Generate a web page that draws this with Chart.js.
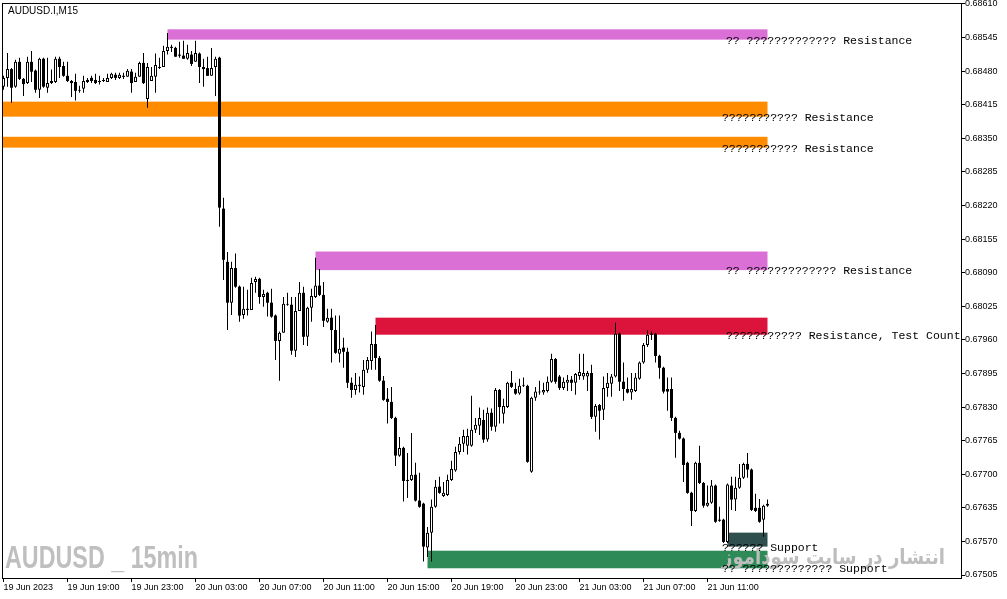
<!DOCTYPE html>
<html>
<head>
<meta charset="utf-8">
<script src="https://cdn.jsdelivr.net/npm/chart.js@4.4.1/dist/chart.umd.min.js"></script>
<style>
  html, body { margin: 0; padding: 0; background: #fff; }
  #wrap { width: 1007px; height: 599px; }
</style>
</head>
<body>
<div id="wrap"><canvas id="chart"></canvas></div>
<script>
// AUDUSD.I M15 candles, prices in points (1e-5), first bar = 19 Jun 15:00
const openPts = [
  68450,68467,68484,68450,68498,68465,68457,68498,68481,68444,68504,68448,
  68457,68459,68504,68490,68471,68461,68459,68442,68446,68463,68467,68463,
  68461,68461,68459,68467,68473,68467,68471,68469,68479,68459,68469,68496,
  68426,68461,68469,68486,68488,68519,68527,68525,68512,68510,68504,68512,
  68498,68514,68488,68486,68471,68488,68506,68214,68111,68032,68099,68063,
  68008,68020,68018,68072,68078,68043,68051,68032,68007,67958,67974,68028,
  68028,67939,68016,68051,67966,68022,68043,68065,68047,67995,68003,67979,
  67933,67945,67937,67877,67863,67873,67869,67902,67919,67952,67925,67881,
  67846,67840,67809,67736,67751,67689,67689,67699,67649,67643,67558,67587,
  67637,67676,67658,67660,67689,67707,67743,67759,67755,67755,67786,67794,
  67805,67767,67819,67792,67863,67817,67830,67877,67865,67856,67871,67871,
  67705,67848,67858,67858,67861,67879,67923,67889,67867,67877,67883,67877,
  67890,67889,67889,67896,67811,67834,67825,67867,67875,67889,67972,67879,
  67865,67858,67861,67885,67916,67950,67972,67972,67929,67906,67865,67865,
  67809,67780,67769,67722,67664,67629,67722,67683,67639,67645,67678,67612,
  67612,67569,67678,67651,67674,67693,67720,67709,67635,67635,67612,67639
];
const highPts = [
  68471,68515,68486,68502,68506,68467,68508,68519,68483,68506,68506,68506,
  68483,68508,68508,68498,68498,68463,68475,68452,68471,68467,68471,68475,
  68471,68467,68475,68477,68477,68477,68477,68484,68484,68477,68498,68515,
  68496,68488,68514,68506,68529,68554,68531,68527,68537,68539,68531,68519,
  68539,68516,68504,68508,68525,68508,68508,68235,68130,68111,68127,68065,
  68063,68057,68080,68082,68080,68057,68053,68059,68009,67976,68043,68051,
  68043,68043,68072,68063,68024,68059,68119,68097,68072,68020,68020,68007,
  68007,67964,67945,67887,67896,67889,67921,67927,67976,67989,67929,67890,
  67867,67869,67811,67772,67753,67741,67780,67722,67703,67645,67598,67651,
  67689,67695,67685,67699,67726,67753,67772,67786,67788,67852,67809,67829,
  67825,67829,67827,67867,67865,67846,67879,67900,67877,67885,67887,67873,
  67850,67869,67881,67877,67889,67933,67925,67892,67887,67892,67890,67896,
  67933,67933,67900,67912,67836,67836,67889,67896,67894,67993,67974,67916,
  67887,67896,67896,67918,67954,67979,67976,67974,67931,67908,67887,67887,
  67811,67784,67771,67724,67666,67724,67755,67685,67678,67689,67680,67637,
  67614,67682,67695,67695,67720,67722,67741,67711,67662,67652,67641,67651
];
const lowPts = [
  68444,68450,68419,68448,68463,68432,68455,68459,68438,68428,68448,68438,
  68455,68457,68467,68469,68459,68430,68423,68438,68438,68457,68457,68455,
  68454,68459,68459,68465,68463,68465,68465,68469,68438,68459,68469,68455,
  68409,68461,68438,68484,68488,68512,68517,68508,68506,68504,68502,68490,
  68498,68457,68450,68471,68471,68432,68179,68076,67979,68008,68061,67995,
  68001,68007,68018,68051,68030,68024,68005,68003,67921,67881,67974,68026,
  67931,67927,68016,67950,67948,67995,68041,68045,67985,67993,67916,67933,
  67916,67906,67867,67848,67854,67858,67854,67896,67902,67902,67879,67842,
  67798,67807,67716,67734,67647,67654,67687,67647,67635,67531,67540,67531,
  67635,67662,67656,67658,67687,67705,67738,67743,67738,67753,67780,67776,
  67761,67763,67784,67782,67798,67798,67828,67867,67854,67854,67869,67722,
  67703,67842,67854,67854,67858,67877,67875,67863,67863,67861,67861,67854,
  67883,67883,67861,67807,67782,67767,67805,67850,67850,67887,67861,67842,
  67856,67844,67859,67883,67914,67946,67960,67916,67885,67856,67823,67803,
  67732,67767,67685,67662,67600,67627,67681,67635,67637,67643,67606,67608,
  67567,67567,67631,67629,67672,67691,67693,67629,67627,67606,67579,67637
];
const closePts = [
  68467,68484,68448,68498,68465,68455,68498,68479,68444,68504,68450,68457,
  68461,68504,68488,68471,68461,68457,68442,68444,68461,68459,68461,68457,
  68459,68462,68467,68475,68467,68473,68469,68481,68457,68469,68496,68457,
  68488,68471,68492,68488,68519,68527,68525,68508,68510,68504,68515,68494,
  68515,68488,68484,68471,68486,68504,68216,68115,68032,68099,68063,68007,
  68020,68018,68070,68078,68043,68049,68032,68005,67958,67974,68030,68030,
  67939,68016,68051,67966,68022,68045,68065,68047,67997,68003,67979,67935,
  67943,67937,67877,67863,67873,67871,67902,67921,67952,67925,67881,67844,
  67840,67809,67736,67751,67687,67687,67699,67649,67637,67560,67587,67637,
  67676,67664,67664,67689,67710,67743,67759,67774,67774,67786,67796,67809,
  67767,67819,67792,67863,67830,67832,67877,67869,67856,67871,67873,67724,
  67848,67860,67860,67863,67879,67923,67879,67867,67879,67883,67877,67894,
  67898,67896,67896,67811,67832,67823,67867,67877,67889,67972,67879,67865,
  67858,67865,67887,67916,67950,67970,67970,67929,67906,67860,67860,67809,
  67780,67769,67718,67664,67629,67722,67683,67639,67645,67678,67608,67610,
  67569,67680,67651,67674,67693,67720,67709,67631,67629,67608,67639,67643
];

// one time label every 16 bars (4 hours)
const timeLabels = ["19 Jun 2023", "19 Jun 19:00", "19 Jun 23:00", "20 Jun 03:00", "20 Jun 07:00", "20 Jun 11:00",
  "20 Jun 15:00", "20 Jun 19:00", "20 Jun 23:00", "21 Jun 03:00", "21 Jun 07:00", "21 Jun 11:00"];
const BARS_PER_LABEL = 16;

const priceTicks = [0.67505, 0.67570, 0.67635, 0.67700, 0.67765, 0.67830, 0.67895, 0.67960, 0.68025,
  0.68090, 0.68155, 0.68220, 0.68285, 0.68350, 0.68415, 0.68480, 0.68545, 0.68610];

// support / resistance zones (points), start bar, text
const zoneLowPts = [68541, 68392, 68332, 68095, 67970, 67560, 67518];
const zoneHighPts = [68561, 68421, 68353, 68131, 68003, 67587, 67552];
const zoneFromBar = [41, -1, -1, 78, 93, 181, 106];
const zoneToBar = 191;
const zoneText = [
  "?? ????????????? Resistance",
  "??????????? Resistance",
  "??????????? Resistance",
  "?? ????????????? Resistance",
  "??????????? Resistance, Test Count",
  "?????? Support",
  "?? ????????????? Support"
];

// styles
const zoneColors = ["#DA70D6", "#FF8C00", "#FF8C00", "#DA70D6", "#DC143C", "#2F4F4F", "#2E8B57"];
const zoneLabelBar = [180.6, 179.6, 179.6, 180.6, 180.6, 179.6, 179.6];

const pt = v => v / 1e5;
const isBull = i => closePts[i] >= openPts[i];

Chart.defaults.font.family = '"Liberation Sans", Arial, sans-serif';
Chart.defaults.color = "#000";

const overlay = {
  id: "overlay",
  beforeDatasetsDraw(chart) {
    const { ctx, chartArea: a, scales: { x, y } } = chart;
    ctx.save();
    ctx.beginPath();
    ctx.rect(a.left, a.top, a.right - a.left, a.bottom - a.top);
    ctx.clip();
    zoneLowPts.forEach((lo, k) => {
      const x0 = x.getPixelForValue(zoneFromBar[k]), x1 = x.getPixelForValue(zoneToBar);
      const y0 = y.getPixelForValue(pt(zoneHighPts[k])), y1 = y.getPixelForValue(pt(lo));
      ctx.fillStyle = zoneColors[k];
      ctx.fillRect(x0, y0, x1 - x0, y1 - y0);
    });
    ctx.restore();
  },
  afterDatasetsDraw(chart) {
    const { ctx, chartArea: a, scales: { x, y } } = chart;
    ctx.save();
    ctx.beginPath();
    ctx.rect(a.left, a.top, a.right - a.left, a.bottom - a.top);
    ctx.clip();

    // watermarks
    ctx.fillStyle = "#bfbfbf";
    ctx.textBaseline = "alphabetic";
    ctx.font = 'bold 32px "Liberation Sans", Arial, sans-serif';
    let w = ctx.measureText("AUDUSD _ 15min").width;
    ctx.save();
    ctx.translate(5, 568);
    ctx.scale(193 / w, 1);
    ctx.textAlign = "left";
    ctx.fillText("AUDUSD _ 15min", 0, 0);
    ctx.restore();

    ctx.fillStyle = "#bdbdbd";
    ctx.font = 'bold 21px "DejaVu Sans", sans-serif';
    w = ctx.measureText("انتشار در سایت سوداموز").width;
    ctx.save();
    ctx.translate(945, 564);
    ctx.scale(223 / w, 1);
    ctx.textAlign = "right";
    ctx.fillText("انتشار در سایت سوداموز", 0, 0);
    ctx.restore();

    // zone labels
    ctx.fillStyle = "#000";
    ctx.font = '11.5px "Liberation Mono", "Courier New", monospace';
    ctx.textAlign = "left";
    ctx.textBaseline = "middle";
    zoneText.forEach((t, k) => {
      ctx.fillText(t, x.getPixelForValue(zoneLabelBar[k]), y.getPixelForValue(pt(zoneLowPts[k])) + 1);
    });

    // symbol caption
    ctx.font = '10px "Liberation Sans", Arial, sans-serif';
    ctx.fillText("AUDUSD.I,M15", 8, 11);
    ctx.restore();

    // frame top / left
    ctx.fillStyle = "#000";
    ctx.fillRect(a.left, a.top, a.right - a.left, 1);
    ctx.fillRect(a.left, a.top, 1, a.bottom - a.top);
  }
};

new Chart(document.getElementById("chart"), {
  type: "bar",
  data: {
    datasets: [
      {
        label: "body",
        data: openPts.map((o, i) => ({ x: i, y: [pt(o), pt(closePts[i])] })),
        barThickness: 3,
        minBarLength: 1,
        grouped: false,
        inflateAmount: 0,
        borderSkipped: false,
        backgroundColor: c => isBull(c.dataIndex) ? "#fff" : "#000",
        borderColor: "#000",
        borderWidth: c => isBull(c.dataIndex) ? 1 : 0,
        order: 0
      },
      {
        label: "wick",
        data: lowPts.map((l, i) => ({ x: i, y: [pt(l), pt(highPts[i])] })),
        barThickness: 1,
        grouped: false,
        inflateAmount: 0,
        borderSkipped: false,
        backgroundColor: "#000",
        borderWidth: 0,
        order: 1
      }
    ]
  },
  options: {
    responsive: true,
    maintainAspectRatio: false,
    animation: false,
    devicePixelRatio: 1,
    layout: { padding: { top: 3, left: 2, right: 0, bottom: 0 } },
    plugins: { legend: { display: false }, tooltip: { enabled: false } },
    scales: {
      x: {
        type: "linear",
        position: "bottom",
        min: -0.375,
        max: 239.375,
        offset: false,
        grid: { drawOnChartArea: false, offset: false, color: "#000", tickLength: 4 },
        border: { display: true, color: "#000" },
        ticks: {
          autoSkip: false, maxRotation: 0, align: "start", padding: 0,
          font: { size: 9 }, color: "#000",
          callback: (v, i) => timeLabels[i]
        },
        afterBuildTicks: s => { s.ticks = timeLabels.map((t, k) => ({ value: k * BARS_PER_LABEL })); },
        afterFit: s => { s.height = 21; s.paddingLeft = 0; s.paddingRight = 0; }
      },
      y: {
        type: "linear",
        position: "right",
        min: 0.674992,
        max: 0.686119,
        grid: { drawOnChartArea: false, color: "#000", tickLength: 4 },
        border: { display: true, color: "#000" },
        ticks: {
          padding: 0, font: { size: 9 }, color: "#000",
          callback: v => v.toFixed(5)
        },
        afterBuildTicks: s => { s.ticks = priceTicks.map(v => ({ value: v })); },
        afterFit: s => { s.width = 46; s.paddingTop = 0; s.paddingBottom = 0; }
      }
    }
  },
  plugins: [overlay]
});
</script>
</body>
</html>
